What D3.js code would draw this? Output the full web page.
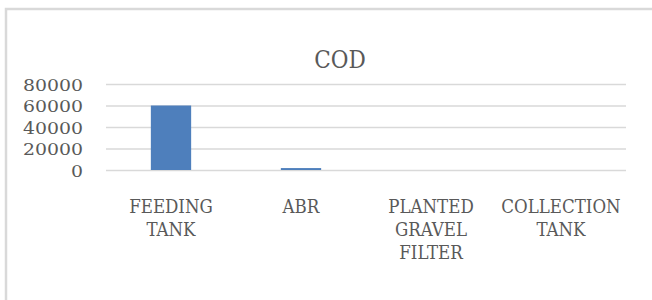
<!DOCTYPE html>
<html>
<head>
  <meta charset="UTF-8">
  <title>COD</title>
  <script src="https://d3js.org/d3.v7.min.js"></script>
  <style>
    * { margin: 0; padding: 0; box-sizing: border-box; }
    body { background: #fff; }
    svg text { font-family: "DejaVu Serif Condensed", "DejaVu Serif", serif; font-stretch: condensed; }
  </style>
</head>
<body>
  <div id="chart"></div>
  <script>
    const categories = [["FEEDING", "TANK"], ["ABR"], ["PLANTED", "GRAVEL", "FILTER"], ["COLLECTION", "TANK"]];
    const codValues = [60000, 1800, 0, 0];
    const yTicks = [0, 20000, 40000, 60000, 80000];

    const W = 652, H = 300;
    const plot = {left: 106, right: 626, top: 84, bottom: 170};

    const svg = d3.select("#chart").append("svg")
      .attr("width", W).attr("height", H);

    // chart frame
    svg.append("rect")
      .attr("x", 6).attr("y", 9)
      .attr("width", W + 20).attr("height", H + 20)
      .attr("fill", "#fff")
      .attr("stroke", "#d9d9d9")
      .attr("stroke-width", 2.5);

    const names = categories.map(d => d.join(" "));
    const data = names.map((n, i) => ({name: n, lines: categories[i], value: codValues[i]}));

    const x = d3.scaleBand()
      .domain(names)
      .range([plot.left, plot.right])
      .paddingInner(0.69)
      .paddingOuter(0.345);

    const y = d3.scaleLinear()
      .domain([0, 80000])
      .range([plot.bottom, plot.top]);

    svg.append("text")
      .attr("x", 340).attr("y", 68)
      .attr("text-anchor", "middle")
      .style("font-size", "24px")
      .style("fill", "#595959")
      .text("COD");

    // gridlines
    svg.append("g")
      .attr("transform", `translate(${plot.left},0)`)
      .call(d3.axisLeft(y).tickValues(yTicks).tickSize(-(plot.right - plot.left)).tickFormat(""))
      .call(g => g.select(".domain").remove())
      .selectAll("line")
      .attr("stroke", "#d9d9d9")
      .attr("stroke-width", 1.5);

    // y labels
    svg.append("g")
      .attr("transform", `translate(83,0)`)
      .call(d3.axisLeft(y).tickValues(yTicks).tickSize(0).tickPadding(0).tickFormat(d3.format("d")))
      .call(g => g.select(".domain").remove())
      .selectAll("text")
      .style("font-size", "17.5px")
      .style("fill", "#595959")
      .attr("dy", "0.36em")
      .each(function(d) {
        const s = String(d);
        d3.select(this).attr("textLength", s.length * 12).attr("lengthAdjust", "spacingAndGlyphs");
      });

    svg.selectAll(".bar")
      .data(data)
      .enter().append("rect")
      .attr("class", "bar")
      .attr("x", d => x(d.name))
      .attr("width", x.bandwidth())
      .attr("y", d => y(d.value))
      .attr("height", d => y(0) - y(d.value))
      .attr("fill", "#4e7fbc");

    // category labels
    const lab = svg.selectAll(".cat")
      .data(data)
      .enter().append("text")
      .attr("class", "cat")
      .attr("text-anchor", "middle")
      .style("font-size", "18.5px")
      .style("fill", "#595959");

    lab.selectAll("tspan")
      .data(d => d.lines.map(l => ({l, cx: x(d.name) + x.bandwidth() / 2})))
      .enter().append("tspan")
      .attr("x", d => d.cx)
      .attr("y", (d, i) => 212.5 + i * 23)
      .text(d => d.l);
  </script>
</body>
</html>
